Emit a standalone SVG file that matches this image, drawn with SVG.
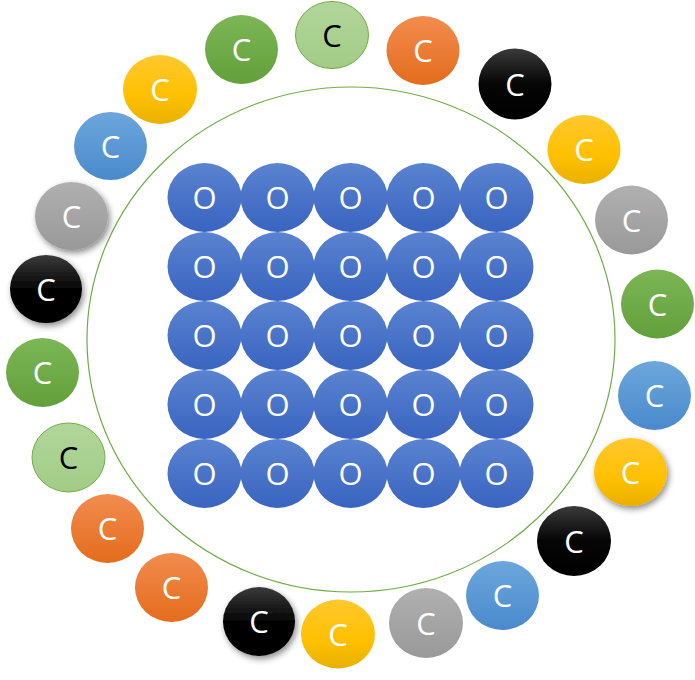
<svg xmlns="http://www.w3.org/2000/svg" width="695" height="680" viewBox="0 0 695 680">
<defs>
<linearGradient id="gO" x1="0" y1="0" x2="0" y2="1"><stop offset="0" stop-color="#5A83D0"/><stop offset="1" stop-color="#3964C0"/></linearGradient>
<linearGradient id="gLG" x1="0" y1="0" x2="0" y2="1"><stop offset="0" stop-color="#B1D69A"/><stop offset="1" stop-color="#A2CC86"/></linearGradient>
<linearGradient id="gOr" x1="0" y1="0" x2="0" y2="1"><stop offset="0" stop-color="#F28C4E"/><stop offset="1" stop-color="#E46C1D"/></linearGradient>
<linearGradient id="gBk" x1="0" y1="0" x2="0" y2="1"><stop offset="0" stop-color="#3A3A3A"/><stop offset="0.5" stop-color="#050505"/><stop offset="1" stop-color="#000"/></linearGradient>
<linearGradient id="gY" x1="0" y1="0" x2="0" y2="1"><stop offset="0" stop-color="#FFC82E"/><stop offset="0.6" stop-color="#FFC000"/><stop offset="1" stop-color="#E8B000"/></linearGradient>
<linearGradient id="gGy" x1="0" y1="0" x2="0" y2="1"><stop offset="0" stop-color="#B0B0B0"/><stop offset="1" stop-color="#999999"/></linearGradient>
<linearGradient id="gG" x1="0" y1="0" x2="0" y2="1"><stop offset="0" stop-color="#7CB656"/><stop offset="1" stop-color="#62A03A"/></linearGradient>
<linearGradient id="gB" x1="0" y1="0" x2="0" y2="1"><stop offset="0" stop-color="#6CA6DC"/><stop offset="1" stop-color="#4A8ACC"/></linearGradient>
<filter id="sh" x="-30%" y="-30%" width="170%" height="170%"><feDropShadow dx="2" dy="3" stdDeviation="3" flood-color="#000" flood-opacity="0.45"/></filter>
</defs>
<style>
text{font-family:"Open Sans","Liberation Sans",sans-serif;font-size:31px;text-anchor:middle;fill:#fff}
.dk{fill:#000}
.lg{fill:url(#gLG);stroke:#70AD47;stroke-width:1}
.o{fill:url(#gO)}
.or{fill:url(#gOr)}
.bk{fill:url(#gBk)}
.y{fill:url(#gY)}
.gy{fill:url(#gGy)}
.g{fill:url(#gG)}
.b{fill:url(#gB)}
.sh{filter:url(#sh)}
</style>
<g id="ring"><ellipse cx="351" cy="339.5" rx="264" ry="252.5" fill="none" stroke="#70AD47" stroke-width="1.2"/></g>
<g id="grid">
<g id="o11"><ellipse class="o" cx="204.5" cy="197.5" rx="37" ry="34.5"/><text x="204.5" y="208.5">O</text></g>
<g id="o12"><ellipse class="o" cx="277.5" cy="197.5" rx="37" ry="34.5"/><text x="277.5" y="208.5">O</text></g>
<g id="o13"><ellipse class="o" cx="350.5" cy="197.5" rx="37" ry="34.5"/><text x="350.5" y="208.5">O</text></g>
<g id="o14"><ellipse class="o" cx="423.5" cy="197.5" rx="37" ry="34.5"/><text x="423.5" y="208.5">O</text></g>
<g id="o15"><ellipse class="o" cx="496.5" cy="197.5" rx="37" ry="34.5"/><text x="496.5" y="208.5">O</text></g>
<g id="o21"><ellipse class="o" cx="204.5" cy="266.5" rx="37" ry="34.5"/><text x="204.5" y="277.5">O</text></g>
<g id="o22"><ellipse class="o" cx="277.5" cy="266.5" rx="37" ry="34.5"/><text x="277.5" y="277.5">O</text></g>
<g id="o23"><ellipse class="o" cx="350.5" cy="266.5" rx="37" ry="34.5"/><text x="350.5" y="277.5">O</text></g>
<g id="o24"><ellipse class="o" cx="423.5" cy="266.5" rx="37" ry="34.5"/><text x="423.5" y="277.5">O</text></g>
<g id="o25"><ellipse class="o" cx="496.5" cy="266.5" rx="37" ry="34.5"/><text x="496.5" y="277.5">O</text></g>
<g id="o31"><ellipse class="o" cx="204.5" cy="335.5" rx="37" ry="34.5"/><text x="204.5" y="346.5">O</text></g>
<g id="o32"><ellipse class="o" cx="277.5" cy="335.5" rx="37" ry="34.5"/><text x="277.5" y="346.5">O</text></g>
<g id="o33"><ellipse class="o" cx="350.5" cy="335.5" rx="37" ry="34.5"/><text x="350.5" y="346.5">O</text></g>
<g id="o34"><ellipse class="o" cx="423.5" cy="335.5" rx="37" ry="34.5"/><text x="423.5" y="346.5">O</text></g>
<g id="o35"><ellipse class="o" cx="496.5" cy="335.5" rx="37" ry="34.5"/><text x="496.5" y="346.5">O</text></g>
<g id="o41"><ellipse class="o" cx="204.5" cy="404.5" rx="37" ry="34.5"/><text x="204.5" y="415.5">O</text></g>
<g id="o42"><ellipse class="o" cx="277.5" cy="404.5" rx="37" ry="34.5"/><text x="277.5" y="415.5">O</text></g>
<g id="o43"><ellipse class="o" cx="350.5" cy="404.5" rx="37" ry="34.5"/><text x="350.5" y="415.5">O</text></g>
<g id="o44"><ellipse class="o" cx="423.5" cy="404.5" rx="37" ry="34.5"/><text x="423.5" y="415.5">O</text></g>
<g id="o45"><ellipse class="o" cx="496.5" cy="404.5" rx="37" ry="34.5"/><text x="496.5" y="415.5">O</text></g>
<g id="o51"><ellipse class="o" cx="204.5" cy="473.5" rx="37" ry="34.5"/><text x="204.5" y="484.5">O</text></g>
<g id="o52"><ellipse class="o" cx="277.5" cy="473.5" rx="37" ry="34.5"/><text x="277.5" y="484.5">O</text></g>
<g id="o53"><ellipse class="o" cx="350.5" cy="473.5" rx="37" ry="34.5"/><text x="350.5" y="484.5">O</text></g>
<g id="o54"><ellipse class="o" cx="423.5" cy="473.5" rx="37" ry="34.5"/><text x="423.5" y="484.5">O</text></g>
<g id="o55"><ellipse class="o" cx="496.5" cy="473.5" rx="37" ry="34.5"/><text x="496.5" y="484.5">O</text></g>
</g>
<g id="ringC">
<g id="c1"><ellipse class="lg" cx="332" cy="35" rx="36.5" ry="33.5"/><text class="dk" x="332" y="46.5">C</text></g>
<g id="c2"><ellipse class="or" cx="423" cy="50.5" rx="36.5" ry="34.5"/><text x="423" y="62">C</text></g>
<g id="c3"><ellipse class="bk" cx="515" cy="84" rx="36.5" ry="35.5"/><text x="515" y="95.5">C</text></g>
<g id="c4"><ellipse class="y" cx="584" cy="149.5" rx="36.5" ry="34.5"/><text x="584" y="161">C</text></g>
<g id="c5"><ellipse class="gy" cx="631.5" cy="220" rx="36.5" ry="34.5"/><text x="631.5" y="231.5">C</text></g>
<g id="c6"><ellipse class="g" cx="657.5" cy="304" rx="36.5" ry="34.5"/><text x="657.5" y="315.5">C</text></g>
<g id="c7"><ellipse class="b" cx="654.5" cy="395.5" rx="36.5" ry="34.5"/><text x="654.5" y="407">C</text></g>
<g id="c8"><ellipse class="y sh" cx="630.5" cy="472" rx="36.5" ry="34"/><text x="630.5" y="483.5">C</text></g>
<g id="c9"><ellipse class="bk" cx="574" cy="541" rx="37" ry="35"/><text x="574" y="552.5">C</text></g>
<g id="c10"><ellipse class="b" cx="502.5" cy="595.5" rx="36.5" ry="34.5"/><text x="502.5" y="607">C</text></g>
<g id="c11"><ellipse class="gy" cx="426" cy="623" rx="37" ry="35"/><text x="426" y="634.5">C</text></g>
<g id="c12"><ellipse class="y" cx="338" cy="634" rx="37" ry="34.5"/><text x="338" y="645.5">C</text></g>
<g id="c13"><ellipse class="bk sh" cx="259" cy="621.5" rx="36" ry="34.5"/><text x="259" y="633">C</text></g>
<g id="c14"><ellipse class="or" cx="171.5" cy="587.5" rx="36.5" ry="34.5"/><text x="171.5" y="599">C</text></g>
<g id="c15"><ellipse class="or" cx="107.5" cy="528.5" rx="36.5" ry="34.5"/><text x="107.5" y="540">C</text></g>
<g id="c16"><ellipse class="lg" cx="68.5" cy="457.5" rx="36.5" ry="34.5"/><text class="dk" x="68.5" y="469">C</text></g>
<g id="c17"><ellipse class="g" cx="42.5" cy="372.5" rx="36.5" ry="34.5"/><text x="42.5" y="384">C</text></g>
<g id="c18"><ellipse class="bk sh" cx="46" cy="289" rx="36" ry="34"/><text x="46" y="300.5">C</text></g>
<g id="c19"><ellipse class="gy sh" cx="71.5" cy="216" rx="36.5" ry="34"/><text x="71.5" y="227.5">C</text></g>
<g id="c20"><ellipse class="b" cx="110.5" cy="146" rx="36.5" ry="34"/><text x="110.5" y="157.5">C</text></g>
<g id="c21"><ellipse class="y" cx="160" cy="89.5" rx="37" ry="34.5"/><text x="160" y="101">C</text></g>
<g id="c22"><ellipse class="g" cx="241.5" cy="49.5" rx="36.5" ry="34.5"/><text x="241.5" y="61">C</text></g>
</g>
</svg>
